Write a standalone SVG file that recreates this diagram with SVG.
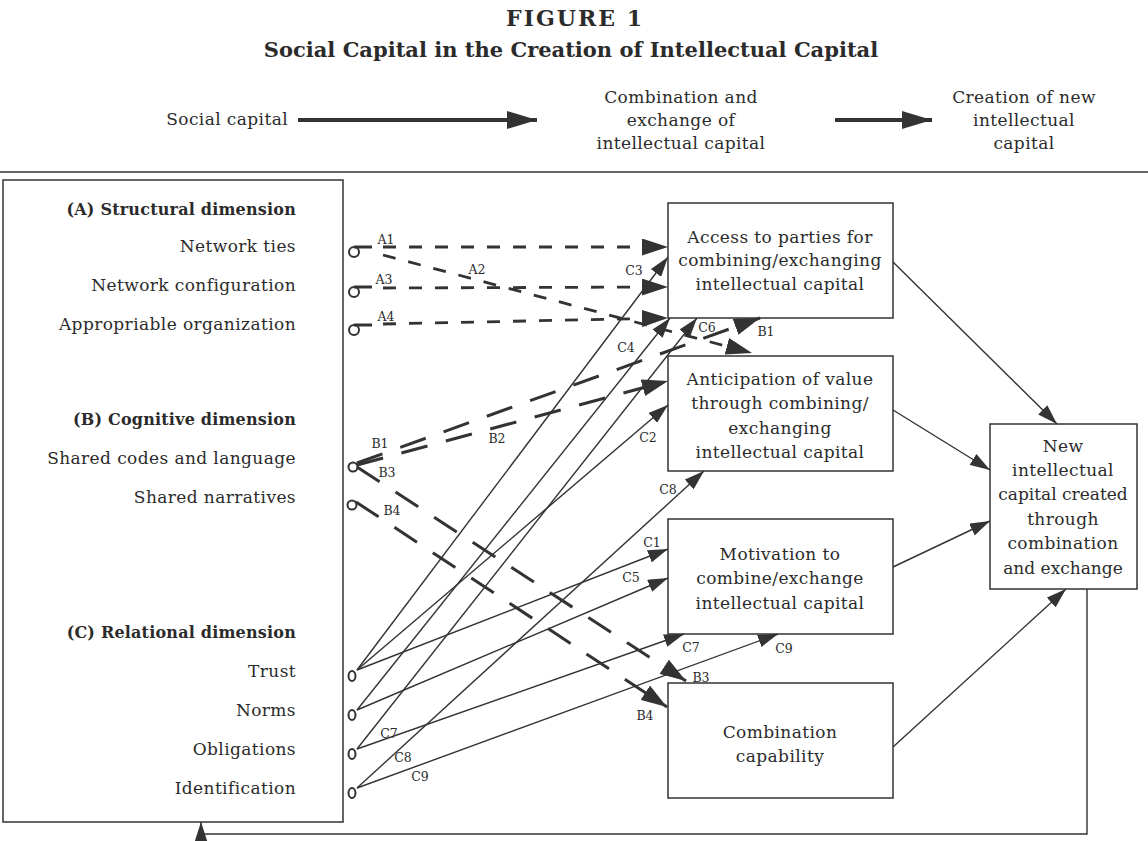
<svg xmlns="http://www.w3.org/2000/svg" width="1148" height="841" viewBox="0 0 1148 841">
<style>
.t{font-family:"DejaVu Serif","Liberation Serif",serif;font-size:17px;letter-spacing:0.4px;fill:#2b2b2b}
.b{font-weight:bold}
.h{font-size:16px;letter-spacing:0.2px}
.r{text-anchor:end}
.m{text-anchor:middle}
.lab{font-family:"DejaVu Serif","Liberation Serif",serif;font-size:12.5px;fill:#2b2b2b;text-anchor:middle}
.box{fill:none;stroke:#333;stroke-width:1.5}
.c{stroke:#333;stroke-width:1.4;fill:none}
.a{stroke:#333;stroke-width:2.8;stroke-dasharray:13 13;fill:none}
.bd{stroke:#333;stroke-width:3;stroke-dasharray:27 19;fill:none}
.o{fill:none;stroke:#333;stroke-width:2}
.hd{stroke:#333;stroke-width:3.8;fill:none}
</style>
<defs>
<marker id="ah" markerUnits="userSpaceOnUse" markerWidth="20" markerHeight="13" refX="20" refY="6.5" orient="auto"><path d="M0,0 L20,6.5 L0,13 z" fill="#333"/></marker>
<marker id="ahb" markerUnits="userSpaceOnUse" markerWidth="26" markerHeight="17" refX="26" refY="8.5" orient="auto"><path d="M0,0 L26,8.5 L0,17 z" fill="#333"/></marker>
<marker id="ahh" markerUnits="userSpaceOnUse" markerWidth="30" markerHeight="18" refX="30" refY="9" orient="auto"><path d="M0,0 L30,9 L0,18 z" fill="#333"/></marker>
</defs>
<rect width="1148" height="841" fill="#fff"/>
<g id="title">
<text class="t b m" x="575" y="26" style="font-size:22px;letter-spacing:2px">FIGURE 1</text>
<text class="t b m" x="571" y="57" style="font-size:21px;letter-spacing:0px">Social Capital in the Creation of Intellectual Capital</text>
</g>
<g id="header">
<text class="t r" x="288" y="125">Social capital</text>
<text class="t m" x="681" y="103">Combination and</text>
<text class="t m" x="681" y="126">exchange of</text>
<text class="t m" x="681" y="149">intellectual capital</text>
<text class="t m" x="1024" y="103">Creation of new</text>
<text class="t m" x="1024" y="126">intellectual</text>
<text class="t m" x="1024" y="149">capital</text>
<line x1="0" y1="172" x2="1148" y2="172" stroke="#333" stroke-width="1.5"/>
</g>
<g id="social-capital">
<rect class="box" x="3" y="180" width="340" height="642"/>
<text class="t b r h" x="296" y="215">(A) Structural dimension</text>
<text class="t r" x="296" y="252">Network ties</text>
<text class="t r" x="296" y="291">Network configuration</text>
<text class="t r" x="296" y="330">Appropriable organization</text>
<text class="t b r h" x="296" y="425">(B) Cognitive dimension</text>
<text class="t r" x="296" y="464">Shared codes and language</text>
<text class="t r" x="296" y="503">Shared narratives</text>
<text class="t b r h" x="296" y="638">(C) Relational dimension</text>
<text class="t r" x="296" y="677">Trust</text>
<text class="t r" x="296" y="716">Norms</text>
<text class="t r" x="296" y="755">Obligations</text>
<text class="t r" x="296" y="794">Identification</text>
<circle class="o" cx="354" cy="252" r="5"/><line x1="354" y1="247" x2="372" y2="247" stroke="#333" stroke-width="3"/>
<circle class="o" cx="354" cy="292" r="5"/><line x1="354" y1="287" x2="372" y2="287" stroke="#333" stroke-width="3"/>
<circle class="o" cx="354" cy="330" r="5"/><line x1="354" y1="325" x2="372" y2="325" stroke="#333" stroke-width="3"/>
<circle class="o" cx="353" cy="467" r="4.5"/>
<circle class="o" cx="352" cy="505" r="4.5"/>
<ellipse class="o" cx="352" cy="676" rx="3.5" ry="5"/>
<ellipse class="o" cx="352" cy="715" rx="3.5" ry="5"/>
<ellipse class="o" cx="352" cy="754" rx="3.5" ry="5"/>
<ellipse class="o" cx="352" cy="793" rx="3.5" ry="5"/>
</g>
<g id="access">
<rect class="box" x="668" y="203" width="225" height="115"/>
<text class="t m" x="780" y="243">Access to parties for</text>
<text class="t m" x="780" y="266">combining/exchanging</text>
<text class="t m" x="780" y="290">intellectual capital</text>
</g>
<g id="anticipation">
<rect class="box" x="668" y="356" width="225" height="115"/>
<text class="t m" x="780" y="385">Anticipation of value</text>
<text class="t m" x="780" y="409">through combining/</text>
<text class="t m" x="780" y="434">exchanging</text>
<text class="t m" x="780" y="458">intellectual capital</text>
</g>
<g id="motivation">
<rect class="box" x="668" y="519" width="225" height="115"/>
<text class="t m" x="780" y="560">Motivation to</text>
<text class="t m" x="780" y="584">combine/exchange</text>
<text class="t m" x="780" y="609">intellectual capital</text>
</g>
<g id="capability">
<rect class="box" x="668" y="683" width="225" height="115"/>
<text class="t m" x="780" y="738">Combination</text>
<text class="t m" x="780" y="762">capability</text>
</g>
<g id="new-capital">
<rect class="box" x="990" y="424" width="147" height="165"/>
<text class="t m" x="1063" y="452">New</text>
<text class="t m" x="1063" y="476">intellectual</text>
<text class="t m" x="1063" y="500" style="letter-spacing:0px">capital created</text>
<text class="t m" x="1063" y="525">through</text>
<text class="t m" x="1063" y="549">combination</text>
<text class="t m" x="1063" y="574" style="letter-spacing:0px">and exchange</text>
</g>
<g id="connectors">
<line class="hd" x1="298" y1="120" x2="537" y2="120" marker-end="url(#ahh)"/>
<line class="hd" x1="835" y1="120" x2="932" y2="120" marker-end="url(#ahh)"/>
<path class="a" d="M383 247 L668 247" marker-end="url(#ahb)"/>
<path class="a" d="M383 255 L752 353" marker-end="url(#ahb)"/>
<path class="a" d="M383 288 L668 287" marker-end="url(#ahb)"/>
<path class="a" d="M383 324 L668 318" marker-end="url(#ahb)"/>
<path class="bd" d="M357 463 L760 318" marker-end="url(#ahb)"/>
<path class="bd" d="M357 465 L668 381" marker-end="url(#ahb)"/>
<path class="bd" d="M357 467 L686 681" marker-end="url(#ahb)"/>
<path class="bd" d="M356 502 L667 707" marker-end="url(#ahb)"/>
<path class="c" d="M357 670 L668 257" marker-end="url(#ah)"/>
<path class="c" d="M357 670 L668 405" marker-end="url(#ah)"/>
<path class="c" d="M357 670 L668 549" marker-end="url(#ah)"/>
<path class="c" d="M357 710 L670 318" marker-end="url(#ah)"/>
<path class="c" d="M357 710 L668 578" marker-end="url(#ah)"/>
<path class="c" d="M357 749 L697 318" marker-end="url(#ah)"/>
<path class="c" d="M357 749 L684 634" marker-end="url(#ah)"/>
<path class="c" d="M357 788 L704 471" marker-end="url(#ah)"/>
<path class="c" d="M357 788 L778 634" marker-end="url(#ah)"/>
<path class="c" d="M893 262 L1057 424" marker-end="url(#ah)"/>
<path class="c" d="M893 410 L990 470" marker-end="url(#ah)"/>
<path class="c" d="M893 567 L990 521" marker-end="url(#ah)"/>
<path class="c" d="M893 747 L1066 589" marker-end="url(#ah)"/>
<path class="c" d="M1087 589 L1087 834 L201 834 L201 822" marker-end="url(#ah)"/>
<text class="lab" x="386" y="244">A1</text>
<text class="lab" x="477" y="274">A2</text>
<text class="lab" x="384" y="284">A3</text>
<text class="lab" x="386" y="321">A4</text>
<text class="lab" x="380" y="448">B1</text>
<text class="lab" x="497" y="443">B2</text>
<text class="lab" x="387" y="477">B3</text>
<text class="lab" x="392" y="515">B4</text>
<text class="lab" x="766" y="336">B1</text>
<text class="lab" x="701" y="682">B3</text>
<text class="lab" x="645" y="720">B4</text>
<text class="lab" x="634" y="275">C3</text>
<text class="lab" x="626" y="352">C4</text>
<text class="lab" x="707" y="332">C6</text>
<text class="lab" x="648" y="442">C2</text>
<text class="lab" x="668" y="494">C8</text>
<text class="lab" x="652" y="547">C1</text>
<text class="lab" x="631" y="582">C5</text>
<text class="lab" x="691" y="652">C7</text>
<text class="lab" x="784" y="653">C9</text>
<text class="lab" x="389" y="738">C7</text>
<text class="lab" x="403" y="762">C8</text>
<text class="lab" x="420" y="781">C9</text>
</g>
</svg>
